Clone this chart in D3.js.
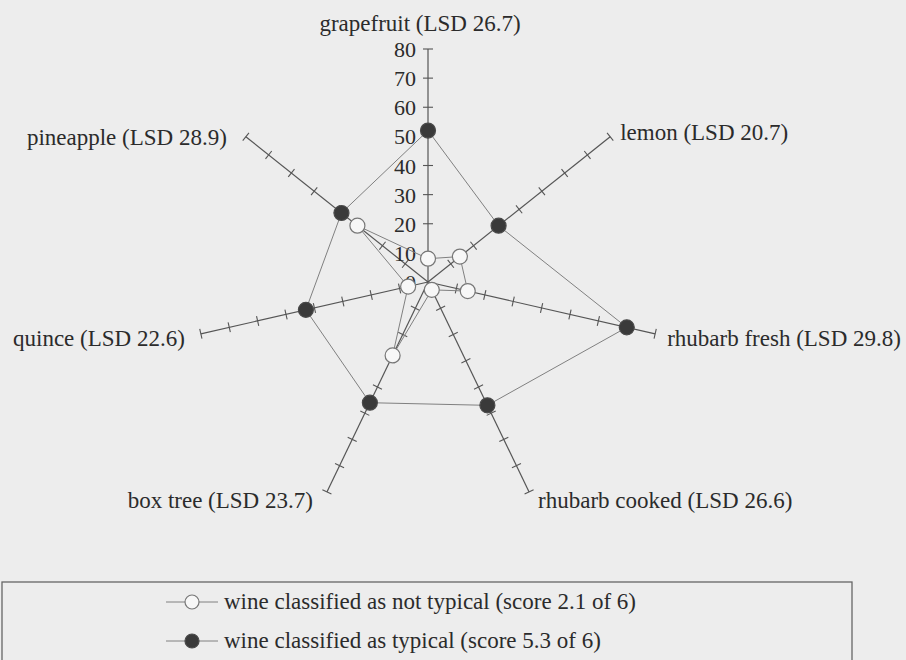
<!DOCTYPE html>
<html>
<head>
<meta charset="utf-8">
<script src="https://cdn.jsdelivr.net/npm/d3@7"></script>
<style>
  body { margin: 0; background: #ededed; }
  svg { display: block; }
</style>
</head>
<body>
<div id="chart"></div>
<script>
// Attributes (clockwise from top) and their LSD values
const attributes = ["grapefruit", "lemon", "rhubarb fresh", "rhubarb cooked", "box tree", "quince", "pineapple"];
const lsd = ["26.7", "20.7", "29.8", "26.6", "23.7", "22.6", "28.9"];

// Mean intensity per attribute
const notTypical = [8, 14, 14, 3, 28, 7, 31];
const typical = [52, 31, 70, 47, 46, 43, 38];

const seriesNames = ["wine classified as not typical (score 2.1 of 6)", "wine classified as typical (score 5.3 of 6)"];
const tickValues = [0, 10, 20, 30, 40, 50, 60, 70, 80];

const width = 906, height = 660;
const cx = 428, cy = 282;
const serif = "'Liberation Serif', 'Times New Roman', Times, 'Nimbus Roman', serif";

const svg = d3.select("#chart").append("svg")
    .attr("width", width)
    .attr("height", height)
    .style("font-family", serif);

const r = d3.scaleLinear().domain([0, 80]).range([0, 233]);
const angle = d3.scaleLinear().domain([0, attributes.length]).range([-Math.PI / 2, 1.5 * Math.PI]);

// point on axis i at value v
function pt(i, v) {
    const a = angle(i);
    return [cx + r(v) * Math.cos(a), cy + r(v) * Math.sin(a)];
}

const g = svg.append("g");

// axes
attributes.forEach((name, i) => {
    const end = pt(i, 80);
    g.append("line")
        .attr("x1", cx).attr("y1", cy)
        .attr("x2", end[0]).attr("y2", end[1])
        .attr("stroke", "#555")
        .attr("stroke-width", 1.2);

    // tick marks every 10, perpendicular to the axis
    const a = angle(i);
    const px = -Math.sin(a), py = Math.cos(a);
    tickValues.filter(t => t > 0).forEach(t => {
        const p = pt(i, t);
        g.append("line")
            .attr("x1", p[0] - px * 5).attr("y1", p[1] - py * 5)
            .attr("x2", p[0] + px * 5).attr("y2", p[1] + py * 5)
            .attr("stroke", "#555")
            .attr("stroke-width", 1.1);
    });
});

// value labels on the vertical axis
g.selectAll(".tick-label")
    .data(tickValues)
    .enter().append("text")
    .attr("class", "tick-label")
    .attr("x", cx - 12)
    .attr("y", d => cy - r(d) + 8)
    .attr("text-anchor", "end")
    .attr("fill", "#2b2b2b")
    .attr("font-family", serif)
    .style("font-size", "22px")
    .text(d => d);

// attribute labels, placed just beyond the end of each axis
const labelOffsets = [
    [-8, -18, "middle"],
    [10, 3, "start"],
    [12, 12, "start"],
    [9, 16, "start"],
    [-14, 16, "end"],
    [-16, 12, "end"],
    [-19, 8, "end"]
];
attributes.forEach((name, i) => {
    const end = pt(i, 80);
    const o = labelOffsets[i];
    g.append("text")
        .attr("x", end[0] + o[0])
        .attr("y", end[1] + o[1])
        .attr("text-anchor", o[2])
        .attr("fill", "#2b2b2b")
        .attr("font-family", serif)
        .style("font-size", "23px")
        .text(`${name} (LSD ${lsd[i]})`);
});

// polygons and markers
const line = d3.line().curve(d3.curveLinearClosed);
const series = [
    { values: typical, fill: "#3a3a3a", stroke: "#4a4a4a" },
    { values: notTypical, fill: "#f7f7f7", stroke: "#777" }
];

series.forEach(s => {
    g.append("path")
        .attr("d", line(s.values.map((v, i) => pt(i, v))))
        .attr("fill", "none")
        .attr("stroke", "#808080")
        .attr("stroke-width", 1);
});

series.forEach(s => {
    g.selectAll(null)
        .data(s.values)
        .enter().append("circle")
        .attr("cx", (v, i) => pt(i, v)[0])
        .attr("cy", (v, i) => pt(i, v)[1])
        .attr("r", 7.5)
        .attr("fill", s.fill)
        .attr("stroke", s.stroke)
        .attr("stroke-width", 1.2);
});

// legend
const legend = svg.append("g");
legend.append("rect")
    .attr("x", 2).attr("y", 582)
    .attr("width", 850).attr("height", 120)
    .attr("fill", "none")
    .attr("stroke", "#666")
    .attr("stroke-width", 1.3);

const legendRows = [
    { name: seriesNames[0], fill: "#f7f7f7", stroke: "#777", y: 602 },
    { name: seriesNames[1], fill: "#3a3a3a", stroke: "#4a4a4a", y: 641 }
];
legendRows.forEach(d => {
    legend.append("line")
        .attr("x1", 166).attr("x2", 218)
        .attr("y1", d.y).attr("y2", d.y)
        .attr("stroke", "#808080")
        .attr("stroke-width", 1);
    legend.append("circle")
        .attr("cx", 192).attr("cy", d.y)
        .attr("r", 7)
        .attr("fill", d.fill)
        .attr("stroke", d.stroke)
        .attr("stroke-width", 1.2);
    legend.append("text")
        .attr("x", 224).attr("y", d.y + 7)
        .attr("fill", "#2b2b2b")
        .attr("font-family", serif)
        .style("font-size", "23px")
        .text(d.name);
});
</script>
</body>
</html>
